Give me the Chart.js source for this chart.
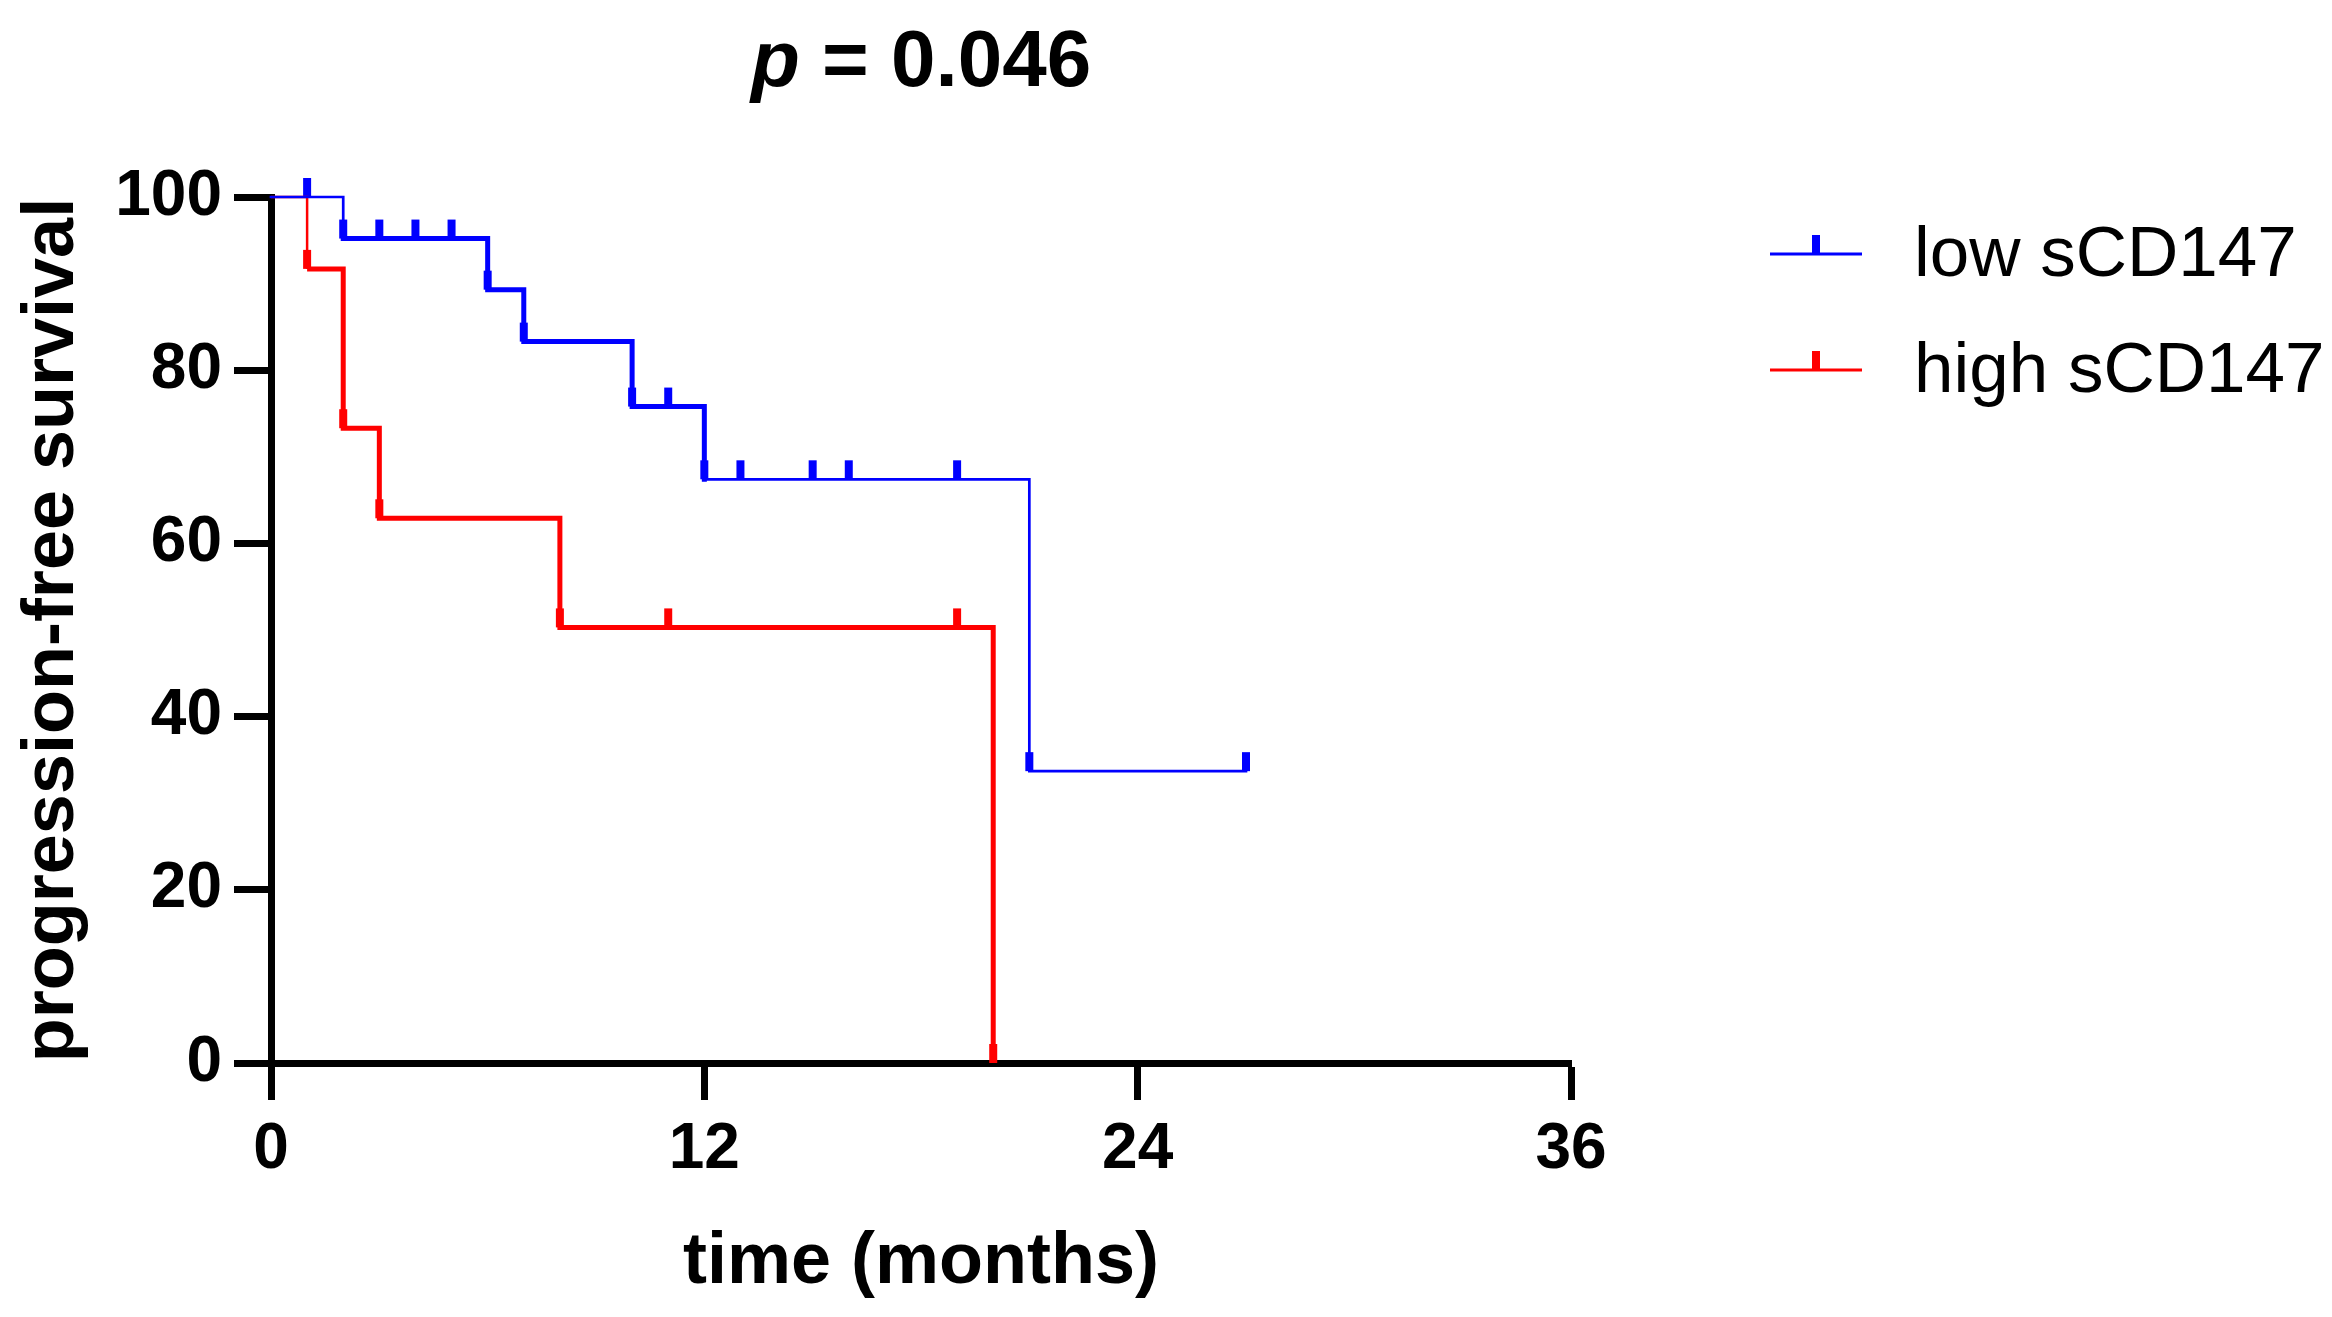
<!DOCTYPE html>
<html>
<head>
<meta charset="utf-8">
<script src="https://cdn.jsdelivr.net/npm/chart.js@4.4.1/dist/chart.umd.min.js"></script>
<style>
  html, body { margin: 0; padding: 0; background: #ffffff; }
  #wrap { width: 2332px; height: 1317px; position: relative; }
</style>
</head>
<body>
<div id="wrap"><canvas id="c"></canvas></div>
<script>
// ---- data ----
const lowTimes = [0, 2, 6, 7, 10, 12, 21, 27];
const lowSurvival = [100, 95.2, 89.3, 83.3, 75.8, 67.4, 33.7, 33.7];
const lowCensorTimes = [1, 2, 3, 4, 5, 6, 7, 10, 11, 12, 13, 15, 16, 19, 21, 27];
const lowCensorSurvival = [100, 95.2, 95.2, 95.2, 95.2, 89.3, 83.3, 75.8, 75.8, 67.4, 67.4, 67.4, 67.4, 67.4, 33.7, 33.7];
const highTimes = [0, 1, 2, 3, 8, 20];
const highSurvival = [100, 91.7, 73.3, 62.9, 50.3, 0];
const highCensorTimes = [1, 2, 3, 8, 11, 19, 20];
const highCensorSurvival = [91.7, 73.3, 62.9, 50.3, 50.3, 50.3, 0];
const xTickValues = [0, 12, 24, 36];
const yTickValues = [0, 20, 40, 60, 80, 100];
const seriesLabels = ['low sCD147', 'high sCD147'];
const seriesColors = ['#0000ff', '#ff0000'];
const titleParts = ['p', ' = 0.046'];
const xTitle = 'time (months)';
const yTitle = 'progression-free survival';

const FAMILY = "'Liberation Sans', Arial, Helvetica, sans-serif";

function zip(xs, ys) { return xs.map((x, i) => ({ x: x, y: ys[i] })); }

const overlay = {
  id: 'overlay',
  afterDraw(chart) {
    const { ctx, chartArea } = chart;
    ctx.save();
    ctx.fillStyle = '#000';
    // title with italic p
    ctx.textBaseline = 'alphabetic';
    ctx.font = 'italic bold 80px ' + FAMILY;
    const w1 = ctx.measureText(titleParts[0]).width;
    ctx.font = 'bold 80px ' + FAMILY;
    const w2 = ctx.measureText(titleParts[1]).width;
    const cx = (chartArea.left + chartArea.right) / 2;
    const x0 = cx - (w1 + w2) / 2;
    ctx.font = 'italic bold 80px ' + FAMILY;
    ctx.fillText(titleParts[0], x0, 86);
    ctx.font = 'bold 80px ' + FAMILY;
    ctx.fillText(titleParts[1], x0 + w1, 86);
    // legend
    const rowY = [254, 370];
    [0, 1].forEach(i => {
      const ds = chart.data.datasets[i];
      const y = rowY[i];
      ctx.strokeStyle = ds.borderColor;
      ctx.lineWidth = 3;
      ctx.beginPath(); ctx.moveTo(1770, y); ctx.lineTo(1862, y); ctx.stroke();
      ctx.lineWidth = 8;
      ctx.beginPath(); ctx.moveTo(1816, y); ctx.lineTo(1816, y - 19); ctx.stroke();
      ctx.fillStyle = '#000';
      ctx.font = '71px ' + FAMILY;
      ctx.textBaseline = 'middle';
      ctx.textAlign = 'left';
      ctx.fillText(ds.label, 1914, y + 2);
    });
    ctx.restore();
  }
};

new Chart(document.getElementById('c'), {
  type: 'line',
  data: {
    datasets: [
      {
        label: seriesLabels[0],
        data: zip(lowTimes, lowSurvival),
        borderColor: seriesColors[0],
        backgroundColor: seriesColors[0],
        borderWidth: 5,
        stepped: 'before',
        pointRadius: 0,
        fill: false,
        clip: false,
        borderCapStyle: 'square',
        segment: {
          borderWidth: c => (c.p0.parsed.x >= 2 && c.p1.parsed.x <= 12) ? 5 : 2.7
        }
      },
      {
        label: seriesLabels[1],
        data: zip(highTimes, highSurvival),
        borderColor: seriesColors[1],
        backgroundColor: seriesColors[1],
        borderWidth: 5,
        stepped: 'before',
        pointRadius: 0,
        fill: false,
        clip: false,
        segment: {
          borderWidth: c => (c.p1.parsed.x <= 1) ? 2.5 : 5
        }
      },
      {
        label: seriesLabels[0] + ' censored',
        data: zip(lowCensorTimes, lowCensorSurvival),
        showLine: false,
        pointStyle: 'dash',
        pointRotation: -90,
        pointRadius: 19,
        pointBorderWidth: 8,
        pointBorderColor: seriesColors[0],
        pointBackgroundColor: seriesColors[0],
        borderColor: seriesColors[0],
        clip: false
      },
      {
        label: seriesLabels[1] + ' censored',
        data: zip(highCensorTimes, highCensorSurvival),
        showLine: false,
        pointStyle: 'dash',
        pointRotation: -90,
        pointRadius: 19,
        pointBorderWidth: 8,
        pointBorderColor: seriesColors[1],
        pointBackgroundColor: seriesColors[1],
        borderColor: seriesColors[1],
        clip: false
      }
    ]
  },
  options: {
    responsive: true,
    maintainAspectRatio: false,
    devicePixelRatio: 1,
    animation: false,
    events: [],
    layout: { padding: { top: 197, right: 761, left: 0, bottom: 0 } },
    plugins: {
      legend: { display: false },
      title: { display: false },
      tooltip: { enabled: false }
    },
    scales: {
      x: {
        type: 'linear',
        min: 0,
        max: 36,
        afterBuildTicks: s => { s.ticks = xTickValues.map(v => ({ value: v })); },
        afterFit: s => { s.height = 254; },
        grid: { display: true, drawOnChartArea: false, drawTicks: true, tickLength: 37, tickWidth: 7, color: '#000' },
        border: { display: true, width: 7, color: '#000' },
        ticks: { color: '#000', padding: 12, font: { family: FAMILY, size: 64, weight: 'bold' }, maxRotation: 0 },
        title: { display: true, text: xTitle, color: '#000', padding: { top: 0, bottom: 11 }, font: { family: FAMILY, size: 72, weight: 'bold' } }
      },
      y: {
        type: 'linear',
        min: 0,
        max: 100,
        afterBuildTicks: s => { s.ticks = yTickValues.map(v => ({ value: v })); },
        afterFit: s => { s.width = 271; },
        grid: { display: true, drawOnChartArea: false, drawTicks: true, tickLength: 37, tickWidth: 7, color: '#000' },
        border: { display: true, width: 7, color: '#000' },
        ticks: { color: '#000', padding: 12, font: { family: FAMILY, size: 64, weight: 'bold' } },
        title: { display: true, text: yTitle, color: '#000', padding: { top: 10, bottom: 0 }, font: { family: FAMILY, size: 72, weight: 'bold' } }
      }
    }
  },
  plugins: [overlay]
});
</script>
</body>
</html>
